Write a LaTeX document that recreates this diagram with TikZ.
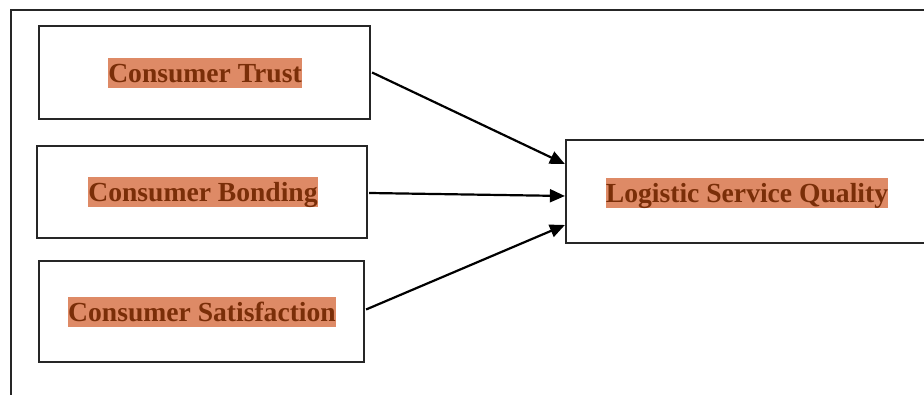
\documentclass[tikz,border=0pt]{standalone}
\usepackage{fontspec}
\setmainfont{Liberation Serif}
\usetikzlibrary{arrows.meta}
\definecolor{framegray}{HTML}{262626}
\definecolor{labelbrown}{HTML}{7A2E08}
\definecolor{labelfill}{HTML}{DE8A66}
\tikzset{
  factorbox/.style={draw=framegray, line width=2.2pt, fill=white, inner sep=0pt},
  factorlabel/.style={fill=labelfill, text=labelbrown, inner xsep=0pt, inner ysep=0pt,
    text height=24.5pt, text depth=6pt, font=\fontsize{27.6pt}{30pt}\selectfont\bfseries},
  link/.style={line width=2.2pt, draw=black, -{Triangle[length=15pt,width=13pt]}}
}
\begin{document}
\begin{tikzpicture}[x=1pt,y=1pt]
  \useasboundingbox (0,0) rectangle (924,395);
  \begin{scope}
    \clip (0,0) rectangle (924,395);
    % open outer frame
    \draw[framegray, line width=2.2pt] (11,-5) -- (11,385) -- (935,385);
    % factor boxes
    \node[factorbox, minimum width=331pt, minimum height=93pt] (trust) at (204.5,322.5) {};
    \node[factorbox, minimum width=330pt, minimum height=92pt] (bond) at (202,203) {};
    \node[factorbox, minimum width=325pt, minimum height=101pt] (sat) at (201.5,83.5) {};
    \node[factorbox, minimum width=362pt, minimum height=103pt] (lsq) at (747,203.5) {};
    % labels
    \node[factorlabel] (trustlbl) at (205,322) {Consumer Trust};
    \node[factorlabel] (bondlbl) at (203,203) {Consumer Bonding};
    \node[factorlabel] (satlbl) at (202,83) {Consumer Satisfaction};
    \node[factorlabel] (lsqlbl) at (747,202) {Logistic Service Quality};
    % paths into the outcome
    \draw[link] ([xshift=1pt]trust.east) -- ([yshift=27.5pt]lsq.west);
    \draw[link] ([xshift=1pt,yshift=-1pt]bond.east) -- ([yshift=-4.5pt]lsq.west);
    \draw[link] ([xshift=1pt,yshift=2pt]sat.east) -- ([yshift=-33.5pt]lsq.west);
  \end{scope}
\end{tikzpicture}
\end{document}
